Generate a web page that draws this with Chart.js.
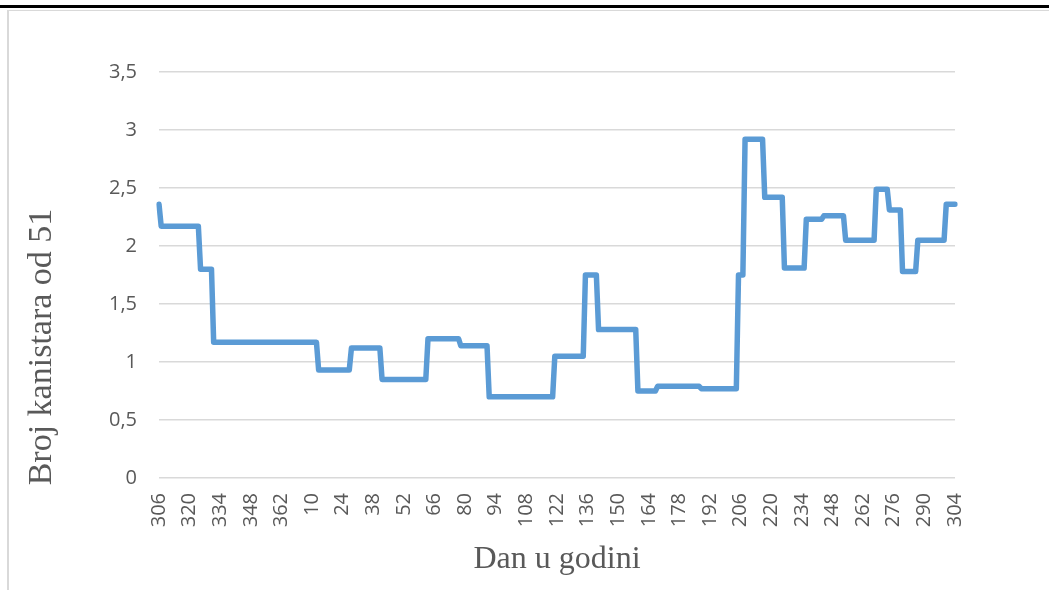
<!DOCTYPE html>
<html>
<head>
<meta charset="utf-8">
<script src="https://cdn.jsdelivr.net/npm/chart.js@4.4.1/dist/chart.umd.min.js"></script>
<style>
  html, body { margin: 0; padding: 0; background: #ffffff; }
  #wrap { position: relative; width: 1049px; height: 590px; overflow: hidden; }
  #topbar { position: absolute; left: 0; top: 5px; width: 1049px; height: 3px; background: #000; }
  #frame { position: absolute; left: 7px; top: 10px; width: 1060px; height: 600px;
           border-left: 2px solid #d9d9d9; border-top: 1px solid #d9d9d9; }
  #c { position: absolute; left: 0; top: 0; }
</style>
</head>
<body>
<div id="wrap">
  <div id="topbar"></div>
  <div id="frame"></div>
  <canvas id="c" width="1049" height="590"></canvas>
</div>
<script>
// ---- Data ----
const xTitle = 'Dan u godini';
const yTitle = 'Broj kanistara od 51';

// Day of year (x categories), from day 306 through 366 and then 1 through 304
const days = [
  306,307,308,309,310,311,312,313,314,315,316,317,318,319,320,321,322,323,324,325,
  326,327,328,329,330,331,332,333,334,335,336,337,338,339,340,341,342,343,344,345,
  346,347,348,349,350,351,352,353,354,355,356,357,358,359,360,361,362,363,364,365,
  366,
  1,2,3,4,5,6,7,8,9,10,11,12,13,14,15,16,17,18,19,20,
  21,22,23,24,25,26,27,28,29,30,31,32,33,34,35,36,37,38,39,40,
  41,42,43,44,45,46,47,48,49,50,51,52,53,54,55,56,57,58,59,60,
  61,62,63,64,65,66,67,68,69,70,71,72,73,74,75,76,77,78,79,80,
  81,82,83,84,85,86,87,88,89,90,91,92,93,94,95,96,97,98,99,100,
  101,102,103,104,105,106,107,108,109,110,111,112,113,114,115,116,117,118,119,120,
  121,122,123,124,125,126,127,128,129,130,131,132,133,134,135,136,137,138,139,140,
  141,142,143,144,145,146,147,148,149,150,151,152,153,154,155,156,157,158,159,160,
  161,162,163,164,165,166,167,168,169,170,171,172,173,174,175,176,177,178,179,180,
  181,182,183,184,185,186,187,188,189,190,191,192,193,194,195,196,197,198,199,200,
  201,202,203,204,205,206,207,208,209,210,211,212,213,214,215,216,217,218,219,220,
  221,222,223,224,225,226,227,228,229,230,231,232,233,234,235,236,237,238,239,240,
  241,242,243,244,245,246,247,248,249,250,251,252,253,254,255,256,257,258,259,260,
  261,262,263,264,265,266,267,268,269,270,271,272,273,274,275,276,277,278,279,280,
  281,282,283,284,285,286,287,288,289,290,291,292,293,294,295,296,297,298,299,300,
  301,302,303,304
];

// Number of canisters (of 51), one value per day
const canisters = [
  2.36,
  2.17,2.17,2.17,2.17,2.17,2.17,2.17,2.17,2.17,2.17,
  2.17,2.17,2.17,2.17,2.17,2.17,2.17,2.17,
  1.80,1.80,1.80,1.80,1.80,1.80,
  1.17,1.17,1.17,1.17,1.17,1.17,1.17,1.17,1.17,1.17,
  1.17,1.17,1.17,1.17,1.17,1.17,1.17,1.17,1.17,1.17,
  1.17,1.17,1.17,1.17,1.17,1.17,1.17,1.17,1.17,1.17,
  1.17,1.17,1.17,1.17,1.17,1.17,1.17,1.17,1.17,1.17,
  1.17,1.17,1.17,1.17,1.17,1.17,1.17,1.17,
  0.93,0.93,0.93,0.93,0.93,0.93,0.93,0.93,0.93,0.93,
  0.93,0.93,0.93,0.93,0.93,
  1.12,1.12,1.12,1.12,1.12,1.12,1.12,1.12,1.12,1.12,
  1.12,1.12,1.12,1.12,
  0.85,0.85,0.85,0.85,0.85,0.85,0.85,0.85,0.85,0.85,
  0.85,0.85,0.85,0.85,0.85,0.85,0.85,0.85,0.85,0.85,
  0.85,
  1.20,1.20,1.20,1.20,1.20,1.20,1.20,1.20,1.20,1.20,
  1.20,1.20,1.20,1.20,1.20,
  1.14,1.14,1.14,1.14,1.14,1.14,1.14,1.14,1.14,1.14,
  1.14,1.14,1.14,
  0.70,0.70,0.70,0.70,0.70,0.70,0.70,0.70,0.70,0.70,
  0.70,0.70,0.70,0.70,0.70,0.70,0.70,0.70,0.70,0.70,
  0.70,0.70,0.70,0.70,0.70,0.70,0.70,0.70,0.70,0.70,
  1.05,1.05,1.05,1.05,1.05,1.05,1.05,1.05,1.05,1.05,
  1.05,1.05,1.05,1.05,
  1.75,1.75,1.75,1.75,1.75,1.75,
  1.28,1.28,1.28,1.28,1.28,1.28,1.28,1.28,1.28,1.28,
  1.28,1.28,1.28,1.28,1.28,1.28,1.28,1.28,
  0.75,0.75,0.75,0.75,0.75,0.75,0.75,0.75,0.75,
  0.79,0.79,0.79,0.79,0.79,0.79,0.79,0.79,0.79,0.79,
  0.79,0.79,0.79,0.79,0.79,0.79,0.79,0.79,0.79,0.79,
  0.77,0.77,0.77,0.77,0.77,0.77,0.77,0.77,0.77,0.77,
  0.77,0.77,0.77,0.77,0.77,0.77,0.77,
  1.75,1.75,1.75,
  2.92,2.92,2.92,2.92,2.92,2.92,2.92,2.92,2.92,
  2.42,2.42,2.42,2.42,2.42,2.42,2.42,2.42,2.42,
  1.81,1.81,1.81,1.81,1.81,1.81,1.81,1.81,1.81,1.81,
  2.23,2.23,2.23,2.23,2.23,2.23,2.23,2.23,
  2.26,2.26,2.26,2.26,2.26,2.26,2.26,2.26,2.26,2.26,
  2.05,2.05,2.05,2.05,2.05,2.05,2.05,2.05,2.05,2.05,
  2.05,2.05,2.05,2.05,
  2.49,2.49,2.49,2.49,2.49,2.49,
  2.31,2.31,2.31,2.31,2.31,2.31,
  1.78,1.78,1.78,1.78,1.78,1.78,1.78,
  2.05,2.05,2.05,2.05,2.05,2.05,2.05,2.05,2.05,2.05,
  2.05,2.05,2.05,
  2.36,2.36,2.36,2.36,2.36
];

const yMin = 0, yMax = 3.5, yStep = 0.5;
const xLabelEvery = 14;

if (canisters.length !== days.length) {
  throw new Error('length mismatch: ' + canisters.length + ' vs ' + days.length);
}

// ---- Styling ----
const textGray = '#595959';
const gridGray = '#d9d9d9';
const tickFont = { family: '"Open Sans", Lato, sans-serif', size: 20 };

const axisTitles = {
  id: 'axisTitles',
  afterDraw(chart) {
    const { ctx, chartArea } = chart;
    ctx.save();
    ctx.fillStyle = textGray;
    ctx.textAlign = 'center';
    ctx.textBaseline = 'alphabetic';
    ctx.font = '32px "Liberation Serif", "Times New Roman", serif';
    ctx.fillText(xTitle, (chartArea.left + chartArea.right) / 2, 568);
    ctx.font = '34px "Liberation Serif", "Times New Roman", serif';
    ctx.translate(51, 347);
    ctx.rotate(-Math.PI / 2);
    ctx.fillText(yTitle, 0, 0);
    ctx.restore();
  }
};

new Chart(document.getElementById('c'), {
  type: 'line',
  data: {
    labels: days.map(String),
    datasets: [{
      data: canisters,
      borderColor: '#5B9BD5',
      borderWidth: 5.5,
      borderCapStyle: 'round',
      borderJoinStyle: 'round',
      pointRadius: 0,
      pointHoverRadius: 0,
      fill: false,
      tension: 0
    }]
  },
  options: {
    responsive: false,
    animation: false,
    events: [],
    layout: { padding: { left: 0, right: 94, top: 72, bottom: 0 } },
    plugins: { legend: { display: false }, tooltip: { enabled: false } },
    scales: {
      x: {
        type: 'category',
        offset: false,
        grid: { display: false, drawTicks: false },
        border: { display: false },
        ticks: {
          autoSkip: false,
          maxRotation: 90,
          minRotation: 90,
          padding: 15,
          color: textGray,
          font: tickFont,
          callback: function (value, index) {
            return index % xLabelEvery === 0 ? this.getLabelForValue(value) : '';
          }
        },
        afterFit(scale) { scale.height = 112; }
      },
      y: {
        min: yMin,
        max: yMax,
        grid: { color: gridGray, lineWidth: 1.5, drawTicks: false },
        border: { display: false },
        ticks: {
          stepSize: yStep,
          padding: 22,
          color: textGray,
          font: tickFont,
          callback: (v) => String(v).replace('.', ',')
        },
        afterFit(scale) { scale.width = 159; }
      }
    }
  },
  plugins: [axisTitles]
});
</script>
</body>
</html>
